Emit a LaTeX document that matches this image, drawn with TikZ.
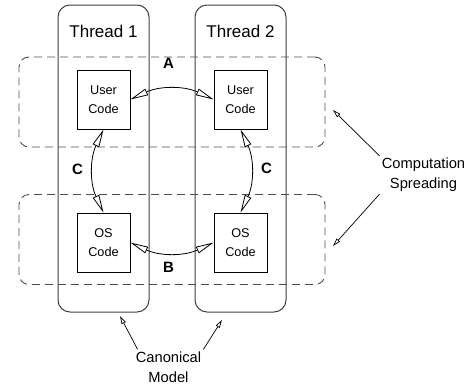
\documentclass[tikz,border=0pt]{standalone}
\usepackage{fontspec}
\setmainfont{Liberation Sans}
\usetikzlibrary{arrows.meta}

\begin{document}
\begin{tikzpicture}[x=1pt, y=-1pt,
    thread/.style={draw=black!75, line width=1pt, rounded corners=12pt,
        minimum width=91pt, minimum height=307pt},
    spread/.style={draw=black!70, line width=0.9pt, dash pattern=on 8pt off 5pt,
        rounded corners=10pt, minimum width=306pt, minimum height=90pt},
    codebox/.style={draw, fill=white, line width=0.8pt, inner sep=0pt, align=center,
        minimum width=53pt, minimum height=59pt, font=\fontsize{12.7}{19}\selectfont},
    flow/.style={{Triangle[open,length=18pt,width=7pt]}-{Triangle[open,length=18pt,width=7pt]}, line width=0.8pt},
    point/.style={-{Triangle[open,length=8pt,width=4.5pt]}, line width=0.7pt},
    tag/.style={font=\fontsize{15}{18}\bfseries\selectfont}]
    \useasboundingbox (0,0) rectangle (468,389);
    \draw (103.5,158.5)node(thread1)[thread]{}
    (240.5,158.5)node(thread2)[thread]{}
    (103.5,31.5)node(tname1)[font=\fontsize{17}{20}\selectfont]{Thread 1}
    (240.5,31.5)node(tname2)[font=\fontsize{17}{20}\selectfont]{Thread 2};
    \draw (172,102)node(spreadtop)[spread]{}
    (172,239.5)node(spreadbot)[spread]{};
    \draw (103.5,99.5)node(user1)[codebox]{User\\Code}
    (240.5,99.5)node(user2)[codebox]{User\\Code}
    (103.5,242.5)node(os1)[codebox]{OS\\Code}
    (240.5,242.5)node(os2)[codebox]{OS\\Code};
    \draw [flow](user1.east) to[bend left=25] (user2.west);
    \draw [flow](os1.east) to[bend right=25] (os2.west);
    \draw [flow](user1.south) to[bend right=25] (os1.north);
    \draw [flow](user2.south) to[bend left=25] (os2.north);
    \draw (168.5,63.5)node(lblA)[tag]{A}
    (168.5,267.5)node(lblB)[tag]{B}
    (77.5,169)node(lblC1)[tag]{C}
    (266.5,168)node(lblC2)[tag]{C};
    % pointers
    \draw (423.5,175)node(spreading)[align=center, inner sep=2pt, font=\fontsize{14.7}{20}\selectfont]{Computation\\Spreading}
    (168.5,367)node(canonical)[align=center, inner sep=2pt, font=\fontsize{14.7}{20}\selectfont]{Canonical\\Model};
    \coordinate (ptop) at (333,110);
    \coordinate (pbot) at (333,246);
    \coordinate (pleft) at (120,316);
    \coordinate (pright) at (222,320);
    \draw [point](spreading.north west)--(ptop);
    \draw [point](spreading.south west)--(pbot);
    \draw [point]([xshift=4pt]canonical.north west)--(pleft);
    \draw [point](canonical.north east)--(pright);
\end{tikzpicture}
\end{document}
